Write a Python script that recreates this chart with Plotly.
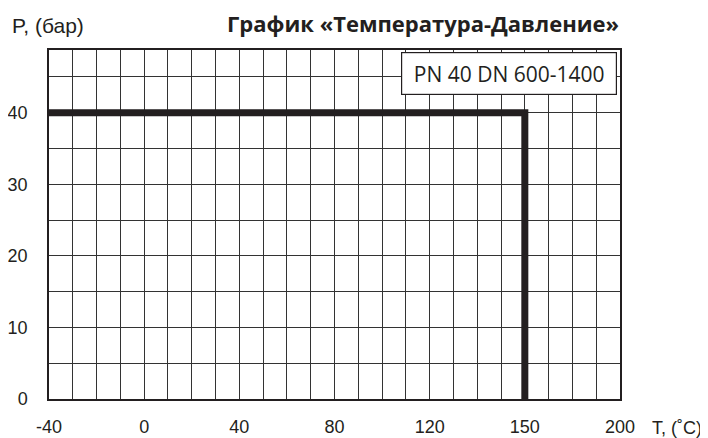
import numpy as np
import plotly.graph_objects as go

# Axis tick labels (schematic, non-uniform temperature scale: every 4 grid cells)
T_ticks = [-40, 0, 40, 80, 120, 150, 200]
T_tick_cells = [0, 4, 8, 12, 16, 20, 24]
P_ticks = [0, 10, 20, 30, 40]

# Pressure-temperature limit curve
T_curve = [-40, 150, 150]
P_curve = [40, 40, 0]

title_text = "График «Температура-Давление»"
label_box = "PN 40 DN 600-1400"
y_title = "P, (бар)"
x_title = "T, (˚C)"

x_curve = np.interp(T_curve, T_ticks, T_tick_cells)

fig = go.Figure()
fig.add_trace(go.Scatter(
    x=x_curve, y=P_curve, mode="lines",
    line=dict(color="#231f20", width=7),
    hoverinfo="skip", showlegend=False,
))

grid_col = "#333333"
fig.update_xaxes(
    range=[0, 24], tickvals=T_tick_cells, ticktext=[str(t) for t in T_ticks],
    showgrid=True, gridcolor=grid_col, gridwidth=1,
    minor=dict(dtick=1, showgrid=True, gridcolor=grid_col, gridwidth=1),
    showline=True, mirror=True, linecolor="#231f20", linewidth=1.5,
    zeroline=False, ticks="", ticklabelstandoff=11, automargin=False,
    tickfont=dict(family="Liberation Sans", size=18, color="#231f20"),
    fixedrange=True,
)
fig.update_yaxes(
    range=[0, 48.75], tickvals=P_ticks,
    showgrid=True, gridcolor=grid_col, gridwidth=1,
    minor=dict(dtick=5, showgrid=True, gridcolor=grid_col, gridwidth=1),
    showline=True, mirror=True, linecolor="#231f20", linewidth=1.5,
    zeroline=False, ticks="", ticklabelstandoff=16, automargin=False,
    tickfont=dict(family="Liberation Sans", size=18, color="#231f20"),
    fixedrange=True,
)

fig.add_annotation(xref="paper", yref="paper", x=0.8056, y=0.934,
                   xanchor="center", yanchor="middle",
                   text=label_box, showarrow=False,
                   width=212, height=39, borderpad=1,
                   bgcolor="white", bordercolor="#231f20", borderwidth=1.2,
                   font=dict(family="Open Sans", size=21, color="#231f20"))

fig.add_annotation(xref="paper", yref="paper", x=0.655, y=1.0785,
                   xanchor="center", yanchor="middle",
                   text="<b>" + title_text + "</b>", showarrow=False,
                   borderpad=0,
                   font=dict(family="Open Sans", size=22, color="#231f20"))
fig.add_annotation(xref="paper", yref="paper", x=-0.069, y=1.07,
                   xanchor="left", yanchor="middle",
                   text=y_title, showarrow=False,
                   font=dict(family="Liberation Sans", size=21, color="#231f20"))
fig.add_annotation(xref="paper", yref="paper", x=1.099, y=-0.082,
                   xanchor="center", yanchor="middle",
                   text=x_title, showarrow=False,
                   font=dict(family="Liberation Sans", size=18, color="#231f20"))

# page body has an 8px margin; the figure is sized to fit the window
fig.update_layout(
    width=700, height=430,
    margin=dict(l=41, r=88, t=42, b=39, autoexpand=False),
    paper_bgcolor="white", plot_bgcolor="white",
    showlegend=False,
)

fig.write_html("out.html", config=dict(displayModeBar=False))
